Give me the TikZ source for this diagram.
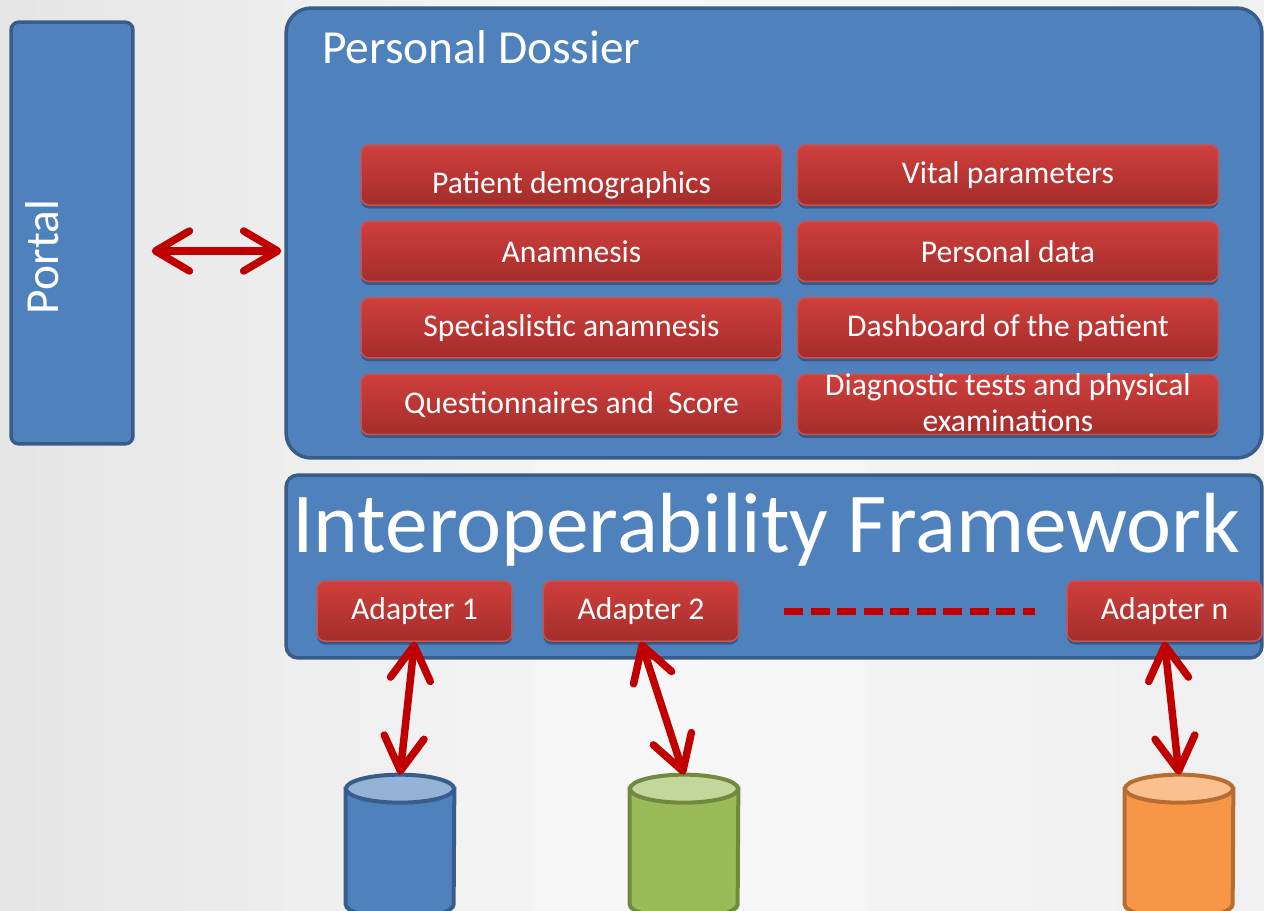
\documentclass[tikz,border=0pt]{standalone}
\usepackage{fontspec}
\setmainfont{Carlito}
\usepackage{xcolor}
\usepackage{tikz}
\usetikzlibrary{arrows.meta,shadows}
\usetikzlibrary{positioning}
\definecolor{pdblue}{HTML}{4F81BD}
\definecolor{blueline}{HTML}{385D8A}
\definecolor{bluetop}{HTML}{95B3D7}
\definecolor{redtop}{HTML}{CF3F3C}
\definecolor{redbot}{HTML}{A42D2B}
\definecolor{redline}{HTML}{C65350}
\definecolor{arrowred}{HTML}{C00000}
\definecolor{dbgreen}{HTML}{9BBB59}
\definecolor{greenline}{HTML}{71893F}
\definecolor{greentop}{HTML}{C3D69B}
\definecolor{dborange}{HTML}{F79646}
\definecolor{orangeline}{HTML}{B66D31}
\definecolor{orangetop}{HTML}{FAC090}
% database drum drawn round an empty node: name, line, body, top
\newcommand\dbdrum[4]{%
  \path[draw=#2,fill=#3,line width=0.08cm] ([yshift=-0.28cm]#1.north west) -- ([yshift=0.28cm]#1.south west)
    arc[start angle=180,end angle=360,x radius=1.08cm,y radius=0.28cm] -- ([yshift=-0.28cm]#1.north east) -- cycle;
  \path[draw=#2,fill=#4,line width=0.08cm] ([yshift=-0.28cm]#1.north) ellipse[x radius=1.08cm,y radius=0.28cm];}
\begin{document}
\begin{tikzpicture}[x=0.02cm,y=-0.02cm,
  bluebox/.style={draw=blueline,fill=pdblue,line width=0.07cm},
  redbox/.style={draw=redline,line width=0.03cm,rounded corners=0.16cm,top color=redtop,bottom color=redbot,
    text=white,font=\fontsize{18}{20.5}\selectfont,minimum width=8.42cm,minimum height=1.2cm,inner sep=0pt,
    drop shadow={shadow xshift=0cm,shadow yshift=-0.07cm,opacity=0.3,fill=black}},
  adapter/.style={redbox,minimum width=3.9cm},
  title/.style={text=white,inner sep=0pt},
  link/.style={draw=arrowred,line width=0.15cm,{Straight Barb[length=0.68cm,width=0.8cm,round]}-{Straight Barb[length=0.68cm,width=0.8cm,round]}},
  dashline/.style={draw=arrowred,line width=0.14cm,dash pattern=on 0.38cm off 0.15cm},
  db/.style={inner sep=0pt,minimum width=2.16cm,minimum height=2.86cm}]
\useasboundingbox (0,0) rectangle (1264,910);
\clip (0,0) rectangle (1264,910);
\shade[left color=black!10,right color=black!6,middle color=black!3] (0,0) rectangle (1264,910);

\node[bluebox,rounded corners=0.16cm,minimum width=2.44cm,minimum height=8.44cm] (portal) at (72,233) {};
\node[title,rotate=90,font=\fontsize{27}{30}\selectfont] (portaltext) at (42,257) {Portal};
\node[bluebox,rounded corners=0.5cm,minimum width=19.52cm,minimum height=9cm] (pd) at (774,233) {};
\node[title,anchor=base west,font=\fontsize{27}{30}\selectfont] (pdtitle) at (322,63) {Personal Dossier};
\node[bluebox,rounded corners=0.24cm,minimum width=19.52cm,minimum height=3.66cm] (iop) at (774,566.5) {};
\node[title,anchor=base west,font=\fontsize{48.6}{52}\selectfont] (ioptitle) at (292,552) {Interoperability Framework};

\node[redbox] (demo) at (571.5,175) {\raisebox{-0.36cm}[0pt][0pt]{Patient demographics}};
\node[redbox,right=0.28cm of demo] (vital) {Vital parameters};
\node[redbox,below=0.3cm of demo] (anam) {Anamnesis};
\node[redbox,right=0.28cm of anam] (pers) {Personal data};
\node[redbox,below=0.3cm of anam] (spec) {Speciaslistic anamnesis};
\node[redbox,right=0.28cm of spec] (dash) {Dashboard of the patient};
\node[redbox,below=0.3cm of spec] (quest) {Questionnaires and~~Score};
\node[redbox,right=0.28cm of quest] (diag) {\raisebox{-0.18cm}[0pt][0pt]{\begin{tabular}{@{}c@{}}Diagnostic tests and physical\\examinations\end{tabular}}};

\node[adapter] (a1) at (414.5,611) {Adapter 1};
\node[adapter,right=0.6cm of a1] (a2) {Adapter 2};
\node[adapter] (an) at (1164.5,611) {Adapter n};

\node[db] (db1) at (400,846.5) {};
\node[db] (db2) at (684,846.5) {};
\node[db] (db3) at (1179,846.5) {};
\dbdrum{db1}{blueline}{pdblue}{bluetop}
\dbdrum{db2}{greenline}{dbgreen}{greentop}
\dbdrum{db3}{orangeline}{dborange}{orangetop}

\draw[link,shorten <=0.34cm,shorten >=0.06cm] ([yshift=-0.36cm]portal.east) -- ([yshift=-0.36cm]pd.west);
\draw[link] (a1.south) -- (db1.north);
\draw[link] (a2.south) -- (db2.north);
\draw[link] (an.south) -- (db3.north);
\draw[dashline,shorten <=0.9cm,shorten >=0.62cm] (a2.east) -- (an.west);
\end{tikzpicture}
\end{document}
